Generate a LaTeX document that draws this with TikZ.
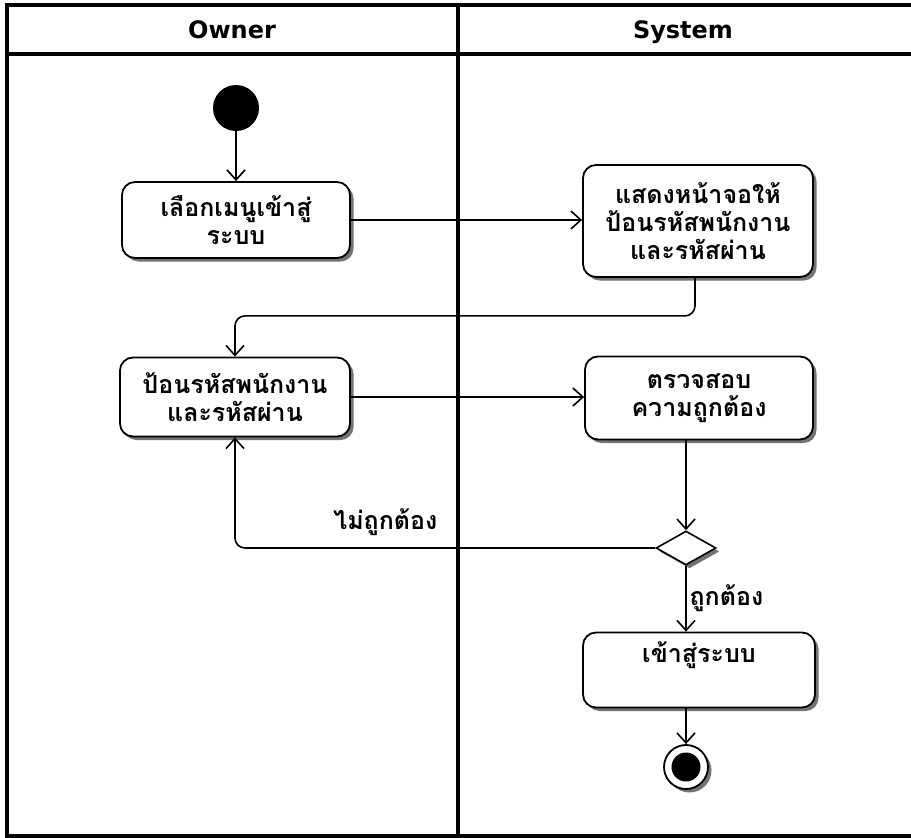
\documentclass[tikz,border=0pt]{standalone}
\usepackage{fontspec}
\setmainfont{DejaVu Sans}
\newfontfamily\thaifont[Script=Thai]{Loma}
\usetikzlibrary{arrows.meta,shapes.geometric,shadows}

\tikzset{
  lane/.style={line width=3.6pt},
  header/.style={font=\bfseries\fontsize{24}{28}\selectfont, anchor=base},
  boxshadow/.style={drop shadow={shadow xshift=3.5pt, shadow yshift=-3.5pt, fill=black!55, opacity=1}},
  action/.style={draw, line width=1.8pt, rounded corners=13pt, fill=white,
    align=center, inner sep=3pt,
    font=\thaifont\bfseries\fontsize{25}{28}\selectfont, boxshadow},
  flow/.style={line width=1.6pt, -{Straight Barb[length=10pt,width=18pt,line width=1.6pt]}},
  guard/.style={font=\thaifont\bfseries\fontsize{25}{28}\selectfont},
  startdot/.style={circle, fill=black, minimum size=46pt, inner sep=0pt},
  enddot/.style={circle, draw, line width=1.8pt, fill=white, minimum size=44pt, inner sep=0pt, boxshadow},
  decision/.style={diamond, draw, line width=1.6pt, fill=white, minimum width=60pt,
    minimum height=34pt, inner sep=0pt, aspect=1.8, boxshadow}
}

\begin{document}
\begin{tikzpicture}[x=1pt, y=-1pt]
\useasboundingbox (0,0) rectangle (911,838);

% swimlane frame
\draw[lane] (911,5) -- (7,5) -- (7,836) -- (911,836);
\draw[lane] (7,54) -- (911,54);
\draw[line width=4.2pt] (458,5) -- (458,836);
\node[header] (owner) at (232,38) {Owner};
\node[header] (system) at (683,38) {System};

% activities
\node[startdot] (start) at (236,108) {};
\node[action, minimum width=228pt, minimum height=76pt] (menu) at (236,220)
  {เลือกเมนูเข้าสู่\\ระบบ};
\node[action, minimum width=230pt, minimum height=112pt] (show) at (698,221)
  {แสดงหน้าจอให้\\ป้อนรหัสพนักงาน\\และรหัสผ่าน};
\node[action, minimum width=230pt, minimum height=79pt] (input) at (235,397)
  {ป้อนรหัสพนักงาน\\และรหัสผ่าน};
\node[action, minimum width=228pt, minimum height=83pt] (check) at (699,398)
  {ตรวจสอบ\\ความถูกต้อง};
\node[decision] (dec) at (686,548) {};
\node[action, minimum width=232pt, minimum height=75pt] (login) at (699,670)
  {เข้าสู่ระบบ\\[0pt]\strut};
\node[enddot] (end) at (686,767) {};
\node[circle, fill=black, minimum size=29pt, inner sep=0pt] (endin) at (end) {};

% guards
\node[guard, anchor=east] (nok) at (441,522) {ไม่ถูกต้อง};
\node[guard, anchor=west] (ok) at (686,598) {ถูกต้อง};

% control flow
\draw[flow] (start) -- (menu);
\draw[flow] (menu.east) -- (show.west |- menu.east);
\draw[flow, rounded corners=10pt] ([xshift=-3pt]show.south) -- ++(0,38) -| (input.north);
\draw[flow] (input.east) -- (check.west |- input.east);
\draw[flow] (dec.north |- check.south) -- (dec.north);
\draw[flow, rounded corners=10pt] (dec.west) -| (input.south);
\draw[flow] (dec.south) -- (dec.south |- login.north);
\draw[flow] (end.north |- login.south) -- (end.north);
\end{tikzpicture}
\end{document}
